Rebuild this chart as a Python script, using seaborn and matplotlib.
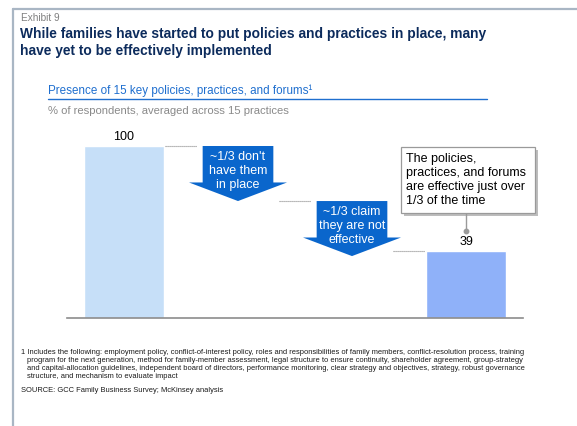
import matplotlib
matplotlib.use("Agg")
import matplotlib.pyplot as plt
from matplotlib.lines import Line2D
from matplotlib.patches import Rectangle, FancyArrow
import seaborn as sns
import pandas as pd

sns.set_theme(style="white")
plt.rcParams["font.family"] = ["Liberation Sans", "DejaVu Sans"]

# ---- data ----
stages = ["Total", "Not in place", "Not effective", "Effective"]
bar_stages = ["Total", "Effective"]
bar_values = [100, 39]
# downward steps: start level and drop length
arrow_stages = ["Not in place", "Not effective"]
arrow_starts = [100, 68]
arrow_drops = [32, 32]
arrow_labels = ["~1/3 don't\nhave them\nin place", "~1/3 claim\nthey are not\neffective"]
connector_levels = [100, 68, 39]

title_lines = "While families have started to put policies and practices in place, many\nhave yet to be effectively implemented"
exhibit = "Exhibit 9"
subtitle = "Presence of 15 key policies, practices, and forums\u00b9"
unit_label = "% of respondents, averaged across 15 practices"
callout = "The policies,\npractices, and forums\nare effective just over\n1/3 of the time"
footnote_lines = [
    "1 Includes the following: employment policy, conflict-of-interest policy, roles and responsibilities of family members, conflict-resolution process, training",
    "program for the next generation, method for family-member assessment, legal structure to ensure continuity, shareholder agreement, group-strategy",
    "and capital-allocation guidelines, independent board of directors, performance monitoring, clear strategy and objectives, strategy, robust governance",
    "structure, and mechanism to evaluate impact",
]
source = "SOURCE: GCC Family Business Survey; McKinsey analysis"

NAVY = "#0c2b5c"
BLUE = "#0a66cc"
W, H = 577, 426

fig = plt.figure(figsize=(W / 100, H / 100), dpi=100)
fig.patch.set_facecolor("white")

def fx(px):
    return px / W

def fy(py):
    return 1 - py / H

# frame lines (top and left)
fig.add_artist(Line2D([fx(13), 1], [fy(9), fy(9)], color="#a9b6c4", lw=1.6))
fig.add_artist(Line2D([fx(13), fx(13)], [fy(9), 0], color="#a9b6c4", lw=1.6))

fig.text(fx(21), fy(18), exhibit, fontsize=7.2, color="#7f7f7f", va="center")
fig.text(fx(20), fy(42.5), title_lines, fontsize=9.9, color=NAVY, weight="bold",
         va="center", linespacing=1.2)

fig.text(fx(48), fy(91), subtitle, fontsize=8.4, color="#1f6fcf", va="center")
fig.add_artist(Line2D([fx(48), fx(487)], [fy(99), fy(99)], color="#1f6fcf", lw=1.0))
fig.text(fx(48), fy(110.5), unit_label, fontsize=8.1, color="#8a8a8a", va="center")

# ---- chart ----
ax = fig.add_axes([fx(67), fy(318), (523 - 67) / W, (318 - 146) / H])
df = pd.DataFrame({"stage": bar_stages, "value": bar_values})
sns.barplot(data=df, x="stage", y="value", order=stages, hue="stage",
            palette={"Total": "#c6dff8", "Effective": "#8fb1f9"},
            width=0.7, saturation=1, legend=False, ax=ax)
ax.set_xlim(-0.5, 3.5)
ax.set_ylim(0, 100)
ax.set_xlabel("")
ax.set_ylabel("")
ax.set_xticks([])
ax.set_yticks([])
for s in ["top", "left", "right"]:
    ax.spines[s].set_visible(False)
ax.spines["bottom"].set_color("#8c8c8c")
ax.spines["bottom"].set_linewidth(1.2)

# value labels
for stage, v in zip(bar_stages, bar_values):
    ax.text(stages.index(stage), v + 5.3, f"{v}", ha="center", va="center",
            fontsize=9, color="black", clip_on=False)

# step arrows
for stage, start, drop, lab in zip(arrow_stages, arrow_starts, arrow_drops, arrow_labels):
    xi = stages.index(stage)
    arr = FancyArrow(xi, start, 0, -drop, width=0.62, head_width=0.86,
                     head_length=10.8, length_includes_head=True,
                     color=BLUE, lw=0, clip_on=False)
    ax.add_patch(arr)
    ax.text(xi, start - 14.5, lab, ha="center", va="center", color="white",
            fontsize=9, linespacing=1.18, clip_on=False)

# dotted connectors between steps
for i, lvl in enumerate(connector_levels):
    ax.plot([i + 0.36, i + 0.64], [lvl, lvl], color="#8c8c8c", lw=0.8,
            ls=(0, (1, 0.8)), clip_on=False)

# callout box with shadow
bx0, bx1 = (401 - 124) / 114, (535 - 124) / 114
by0, by1 = (318 - 213) / 1.72, (318 - 147) / 1.72
sx, sy = 2.5 / 114, 2.5 / 1.72
ax.add_patch(Rectangle((bx0 + sx, by0 - sy), bx1 - bx0, by1 - by0,
                       facecolor="#bdbdbd", edgecolor="none", clip_on=False, zorder=4))
ax.add_patch(Rectangle((bx0, by0), bx1 - bx0, by1 - by0, facecolor="white",
                       edgecolor="#9a9a9a", lw=0.9, clip_on=False, zorder=5))
ax.text(bx0 + 5 / 114, (by0 + by1) / 2, callout, ha="left", va="center",
        fontsize=9.0, linespacing=1.2, color="black", clip_on=False, zorder=6)
eff = stages.index("Effective")
dot_y = bar_values[1] + 11.5
ax.plot([eff, eff], [by0, dot_y], color="#9a9a9a", lw=1.0, clip_on=False, zorder=4)
ax.plot([eff], [dot_y], marker="o", ms=3.2, color="#9a9a9a", clip_on=False, zorder=4)

# footnotes
for i, line in enumerate(footnote_lines):
    fig.text(fx(21 if i == 0 else 27), fy(352 + 8 * i), line, fontsize=5.45,
             color="#1a1a1a", va="center")
fig.text(fx(21), fy(390), source, fontsize=5.45, color="#1a1a1a", va="center")

fig.savefig("out.png", dpi=100, facecolor="white")
